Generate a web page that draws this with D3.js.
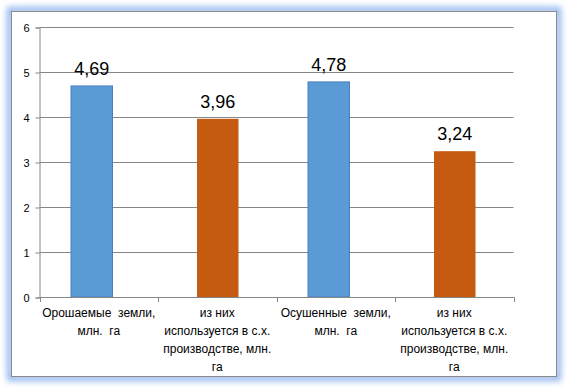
<!DOCTYPE html>
<html>
<head>
<meta charset="utf-8">
<script src="https://cdn.jsdelivr.net/npm/d3@7"></script>
<style>
  html, body { margin: 0; padding: 0; background: #fff; }
  svg { display: block; }
</style>
</head>
<body>
<div id="canvas"></div>
<script>
// data
const categories = [
  ['Орошаемые  земли,', 'млн.  га'],
  ['из них', 'используется в с.х.', 'производстве, млн.', 'га'],
  ['Осушенные  земли,', 'млн.  га'],
  ['из них', 'используется в с.х.', 'производстве, млн.', 'га']
];
const values = [4.69, 3.96, 4.78, 3.24];
const valueLabels = ['4,69', '3,96', '4,78', '3,24'];
const series = ['total', 'used', 'total', 'used'];
const yTicks = [0, 1, 2, 3, 4, 5, 6];

(function() {
  const W = 569, H = 388;
  const svg = d3.select('#canvas').append('svg')
    .attr('width', W).attr('height', H)
    .style('font-family', '"Liberation Sans", Arial, sans-serif');

  // blue glow around the frame
  const defs = svg.append('defs');
  const f = defs.append('filter').attr('id', 'glow')
    .attr('x', '-10%').attr('y', '-10%').attr('width', '120%').attr('height', '120%');
  f.append('feGaussianBlur').attr('stdDeviation', 3);

  svg.append('rect')
    .attr('x', 10).attr('y', 10).attr('width', 548).attr('height', 368)
    .attr('fill', 'none').attr('stroke', '#8fb4ef').attr('stroke-width', 6)
    .attr('filter', 'url(#glow)');
  svg.append('rect')
    .attr('x', 11.5).attr('y', 11.5).attr('width', 545).attr('height', 365)
    .attr('fill', '#fff').attr('stroke', '#8a8a8a').attr('stroke-width', 1);

  const left = 39.5, right = 513.5, top = 27, bottom = 297;
  const x = d3.scaleBand().domain(d3.range(categories.length)).range([left, right]).paddingInner(0).paddingOuter(0);
  const y = d3.scaleLinear().domain([0, 6]).range([bottom, top]);
  const color = d3.scaleOrdinal().domain(['total', 'used']).range(['#5b9bd5', '#c55a11']);
  const shift = { total: -7, used: 0.5 };
  const barW = 41.5;

  // grid
  svg.append('g').selectAll('line').data(yTicks.filter(d => d > 0)).join('line')
    .attr('x1', left).attr('x2', right)
    .attr('y1', d => Math.round(y(d)) + 0.5).attr('y2', d => Math.round(y(d)) + 0.5)
    .attr('stroke', '#868686').attr('stroke-width', 1);

  // y axis
  const yAxis = svg.append('g')
    .attr('transform', `translate(${left},0.5)`)
    .call(d3.axisLeft(y).tickValues(yTicks).tickFormat(d3.format('d')).tickSize(4).tickPadding(6));
  yAxis.select('.domain').attr('stroke', '#868686');
  yAxis.selectAll('.tick line').attr('stroke', '#868686');
  yAxis.selectAll('text').attr('fill', '#000').style('font-size', '11px')
    .style('font-family', '"Liberation Sans", Arial, sans-serif');

  // bars
  svg.append('g').selectAll('rect').data(values).join('rect')
    .attr('x', (d, i) => x(i) + x.bandwidth() / 2 - barW / 2 + shift[series[i]])
    .attr('y', d => y(d))
    .attr('width', barW)
    .attr('height', d => y(0) - y(d))
    .attr('fill', (d, i) => color(series[i]))
    .attr('stroke', (d, i) => series[i] === 'total' ? '#4a7fc4' : 'none')
    .attr('stroke-width', 1);

  // value labels
  svg.append('g').selectAll('text').data(values).join('text')
    .attr('x', (d, i) => x(i) + x.bandwidth() / 2 + shift[series[i]])
    .attr('y', d => y(d) - 11)
    .attr('text-anchor', 'middle')
    .style('font-size', '18px')
    .attr('fill', '#000')
    .text((d, i) => valueLabels[i]);

  // x axis
  const xg = svg.append('g');
  xg.append('line').attr('x1', left).attr('x2', right)
    .attr('y1', bottom + 0.5).attr('y2', bottom + 0.5).attr('stroke', '#868686');
  xg.selectAll('line.tk').data(d3.range(categories.length + 1)).join('line')
    .attr('class', 'tk')
    .attr('x1', i => Math.round(left + i * x.bandwidth()) + 0.5)
    .attr('x2', i => Math.round(left + i * x.bandwidth()) + 0.5)
    .attr('y1', bottom).attr('y2', bottom + 5)
    .attr('stroke', '#868686');

  const lab = svg.append('g').selectAll('text').data(categories).join('text')
    .attr('text-anchor', 'middle')
    .attr('fill', '#000')
    .style('font-size', '12px')
    .style('white-space', 'pre');
  lab.each(function(lines, i) {
    d3.select(this).selectAll('tspan').data(lines).join('tspan')
      .attr('x', x(i) + x.bandwidth() / 2)
      .attr('y', (l, j) => 317 + j * 18)
      .text(l => l);
  });
})();
</script>
</body>
</html>
